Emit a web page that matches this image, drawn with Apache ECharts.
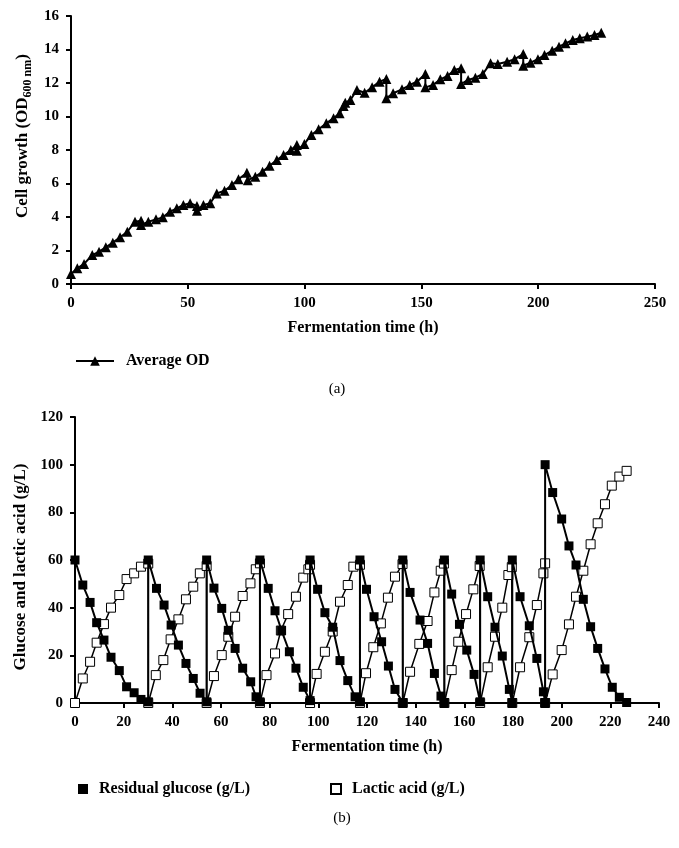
<!DOCTYPE html>
<html>
<head>
<meta charset="utf-8">
<script src="https://cdn.jsdelivr.net/npm/echarts@6/dist/echarts.min.js"></script>
<style>
html,body{margin:0;padding:0;background:#fff;}
#chart{width:679px;height:848px;}
</style>
</head>
<body>
<div id="chart"></div>
<script>
// ---- Panel (a): average OD600 ----
const odTime = [0, 2.7, 5.6, 9.1, 12, 14.9, 17.9, 21, 24.1, 27.4,
  30, 30, 33.1, 36.4, 39.3, 42.4, 45.3, 48.1, 51, 53.9,
  53.9, 56.7, 59.6, 62.4, 65.7, 68.9, 71.7, 75.3, 75.7, 78.9,
  82, 85, 88.1, 91, 94.1, 96.7, 96.7, 99.9, 102.9, 106,
  109.3, 112.4, 115, 116.7, 117.4, 119.6, 122.4, 125.7, 128.9, 132.1,
  135, 135, 137.9, 141.7, 145, 148.1, 151.7, 151.7, 155, 158.1,
  161.2, 164.1, 167, 167, 170, 173.1, 176.3, 179.6, 182.7, 186.7,
  189.9, 193.6, 193.6, 196.7, 199.9, 202.7, 206, 208.9, 211.7, 214.8,
  217.8, 221, 224.1, 227];
const odValue = [0.6, 0.94, 1.2, 1.73, 1.93, 2.19, 2.47, 2.79, 3.12, 3.72,
  3.78, 3.52, 3.72, 3.86, 3.98, 4.32, 4.52, 4.72, 4.82, 4.66,
  4.38, 4.72, 4.82, 5.41, 5.57, 5.91, 6.25, 6.64, 6.2, 6.41,
  6.7, 7.06, 7.4, 7.7, 8.0, 8.3, 7.96, 8.36, 8.9, 9.24,
  9.6, 9.9, 10.2, 10.63, 10.82, 10.99, 11.58, 11.42, 11.74, 12.08,
  12.24, 11.09, 11.39, 11.62, 11.88, 12.08, 12.54, 11.74, 11.88, 12.22,
  12.42, 12.78, 12.88, 11.94, 12.18, 12.32, 12.54, 13.18, 13.13, 13.27,
  13.42, 13.73, 13.03, 13.21, 13.42, 13.67, 13.93, 14.17, 14.37, 14.57,
  14.67, 14.77, 14.87, 15.0];
const odTicksX = [0, 250, 50];   // min, max, interval
const odTicksY = [0, 16, 2];

// ---- Panel (b): residual glucose and lactic acid ----
const glucoseTime = [0, 3.2, 6.2, 8.9, 11.9, 14.8, 18.2, 21.2, 24.3, 27.1, 30.1, 30.1,
  33.5, 36.6, 39.5, 42.5, 45.6, 48.6, 51.4, 54.1, 54.1,
  57.1, 60.3, 63, 65.8, 68.9, 72.2, 74.4, 76, 76,
  79.4, 82.2, 84.9, 88.1, 90.8, 93.8, 96.6, 96.6,
  99.7, 102.7, 105.9, 108.9, 112.1, 115.1, 117.1, 117.1,
  119.8, 122.9, 126, 128.8, 131.5, 134.7, 134.7,
  137.7, 141.8, 144.9, 147.7, 150.4, 151.8, 151.8,
  154.8, 158, 161, 164, 166.5, 166.5,
  169.6, 172.6, 175.6, 178.5, 179.7, 179.7,
  182.9, 186.7, 189.8, 192.5, 193.2, 193.2,
  196.3, 200, 203, 205.9, 208.9, 211.9, 214.8, 217.8, 220.8, 223.7, 226.7];
const glucoseValue = [60, 49.5, 42.2, 33.7, 26.4, 19.2, 13.6, 6.8, 4.3, 1.5, 0.5, 60,
  48.1, 41.1, 32.7, 24.3, 16.6, 10.3, 4.1, 0.5, 60,
  48.2, 39.7, 30.5, 22.9, 14.6, 8.9, 2.6, 0.5, 60,
  48.1, 38.7, 30.4, 21.5, 14.6, 6.6, 1.0, 60,
  47.7, 37.9, 31.8, 17.8, 9.4, 2.6, 0.5, 60,
  47.7, 36.2, 25.7, 15.5, 5.7, 0.2, 60,
  46.4, 34.8, 25, 12.4, 2.9, 0.2, 60,
  45.7, 33, 22.2, 12, 0.5, 60,
  44.6, 31.8, 19.7, 5.7, 0.2, 60,
  44.6, 32.4, 18.7, 4.7, 0.2, 100,
  88.3, 77.2, 65.9, 57.9, 43.5, 32, 22.9, 14.3, 6.6, 2.4, 0.2];
const lacticTime = [0, 3.2, 6.2, 8.9, 11.9, 14.8, 18.2, 21.2, 24.3, 27.1, 30.1, 30.1,
  33.2, 36.3, 39.3, 42.5, 45.6, 48.6, 51.3, 54.1, 54.1,
  57.1, 60.3, 63, 65.8, 68.9, 72.1, 74.3, 76, 76,
  78.7, 82.2, 84.6, 87.6, 90.8, 93.8, 95.9, 96.6, 96.6,
  99.3, 102.7, 105.9, 108.9, 112.1, 114.4, 117.1, 117.1,
  119.6, 122.6, 125.7, 128.6, 131.5, 134.6, 134.7,
  137.7, 141.5, 144.9, 147.7, 150.3, 151.6, 151.8,
  154.8, 157.5, 160.7, 163.7, 166.3, 166.5,
  169.6, 172.6, 175.6, 178.1, 179.5, 179.7,
  182.9, 186.7, 189.8, 192.5, 193.2, 193.2,
  196.3, 200, 203, 205.9, 208.9, 211.9, 214.8, 217.8, 220.6, 223.7, 226.7];
const lacticValue = [0, 10.3, 17.3, 25.3, 33.1, 40, 45.3, 52, 54.4, 57.2, 58.5, 0,
  11.7, 18, 26.7, 35.1, 43.5, 48.8, 54.4, 57.5, 0,
  11.3, 20.1, 27.8, 36.2, 44.9, 50.2, 56.1, 58.6, 0,
  11.7, 20.8, 30.4, 37.3, 44.6, 52.6, 56.1, 58, 0,
  12.2, 21.5, 30, 42.5, 49.5, 57.2, 58, 0,
  12.5, 23.4, 33.4, 44.2, 53, 58.3, 0,
  13.1, 24.8, 34.4, 46.4, 55.5, 58.5, 0,
  13.8, 25.7, 37.3, 47.7, 57.5, 0,
  15, 27.8, 40, 53.7, 57, 0,
  15, 27.6, 41.1, 54.4, 58.6, 0,
  12, 22.2, 33, 44.6, 55.5, 66.6, 75.4, 83.4, 91.2, 95, 97.4];
const bTicksX = [0, 240, 20];
const bTicksY = [0, 120, 20];

const FONT = 'Liberation Serif';
const pair = (xs, ys) => xs.map((x, i) => [x, ys[i]]);

function xAxisCfg(idx, t) {
  return {
    type: 'value', gridIndex: idx, min: t[0], max: t[1], interval: t[2],
    name: 'Fermentation time (h)', nameLocation: 'middle', nameGap: 36,
    nameTextStyle: {fontFamily: FONT, fontWeight: 'bold', fontSize: 16, color: '#000'},
    axisLine: {onZero: false, lineStyle: {color: '#000', width: 2}},
    axisTick: {show: true, inside: false, length: 5, lineStyle: {color: '#000', width: 2}},
    axisLabel: {fontFamily: FONT, fontWeight: 'bold', fontSize: 15, color: '#000', margin: 12},
    splitLine: {show: false}
  };
}
function yAxisCfg(idx, t) {
  return {
    type: 'value', gridIndex: idx, min: t[0], max: t[1], interval: t[2],
    axisLine: {show: true, lineStyle: {color: '#000', width: 2}},
    axisTick: {show: true, inside: false, length: 5, lineStyle: {color: '#000', width: 2}},
    axisLabel: {fontFamily: FONT, fontWeight: 'bold', fontSize: 15, color: '#000', margin: 12},
    splitLine: {show: false}
  };
}

const chart = echarts.init(document.getElementById('chart'), null, {renderer: 'canvas'});
chart.setOption({
  backgroundColor: '#fff',
  animation: false,
  grid: [
    {left: 71, top: 16, width: 584, height: 268},
    {left: 75, top: 417, width: 584, height: 286}
  ],
  xAxis: [xAxisCfg(0, odTicksX), xAxisCfg(1, bTicksX)],
  yAxis: [yAxisCfg(0, odTicksY), yAxisCfg(1, bTicksY)],
  legend: [
    {
      data: ['Average OD'], left: 70, top: 348, itemWidth: 38, itemHeight: 12,
      textStyle: {fontFamily: FONT, fontWeight: 'bold', fontSize: 16, color: '#000', padding: [0, 0, 0, 7]}
    },
    {
      data: [{name: 'Residual glucose (g/L)', icon: 'rect'}], left: 73, top: 776, itemWidth: 10, itemHeight: 10,
      textStyle: {fontFamily: FONT, fontWeight: 'bold', fontSize: 16, color: '#000', padding: [0, 0, 0, 6]}
    },
    {
      data: [{name: 'Lactic acid (g/L)', icon: 'rect'}], left: 325, top: 776, itemWidth: 10, itemHeight: 10,
      textStyle: {fontFamily: FONT, fontWeight: 'bold', fontSize: 16, color: '#000', padding: [0, 0, 0, 6]}
    }
  ],
  graphic: [
    {
      type: 'text', x: 23, y: 136, rotation: Math.PI / 2,
      style: {
        text: '{a|Cell growth (OD}{s|600 nm}{a|)}',
        align: 'center', verticalAlign: 'middle', fill: '#000',
        rich: {
          a: {fontFamily: FONT, fontWeight: 'bold', fontSize: 17, fill: '#000', lineHeight: 22},
          s: {fontFamily: FONT, fontWeight: 'bold', fontSize: 12, fill: '#000', lineHeight: 22, padding: [10, 0, 0, 0]}
        }
      }
    },
    {
      type: 'text', x: 21, y: 567, rotation: Math.PI / 2,
      style: {
        text: 'Glucose and lactic acid (g/L)', align: 'center', verticalAlign: 'middle',
        fontFamily: FONT, fontWeight: 'bold', fontSize: 17, fill: '#000'
      }
    },
    {
      type: 'text', x: 337, y: 389,
      style: {text: '(a)', align: 'center', verticalAlign: 'middle', fontFamily: FONT, fontSize: 15, fill: '#000'}
    },
    {
      type: 'text', x: 342, y: 818,
      style: {text: '(b)', align: 'center', verticalAlign: 'middle', fontFamily: FONT, fontSize: 15, fill: '#000'}
    }
  ],
  series: [
    {
      name: 'Average OD', type: 'line', xAxisIndex: 0, yAxisIndex: 0,
      data: pair(odTime, odValue),
      symbol: 'triangle', symbolSize: 10,
      lineStyle: {color: '#000', width: 2},
      itemStyle: {color: '#000'}
    },
    {
      name: 'Residual glucose (g/L)', type: 'line', xAxisIndex: 1, yAxisIndex: 1,
      data: pair(glucoseTime, glucoseValue),
      symbol: 'rect', symbolSize: 9, z: 3,
      lineStyle: {color: '#000', width: 2},
      itemStyle: {color: '#000'}
    },
    {
      name: 'Lactic acid (g/L)', type: 'line', xAxisIndex: 1, yAxisIndex: 1,
      data: pair(lacticTime, lacticValue),
      symbol: 'rect', symbolSize: 9, z: 2,
      lineStyle: {color: '#000', width: 1.5},
      itemStyle: {color: '#fff', borderColor: '#000', borderWidth: 1}
    }
  ]
});
</script>
</body>
</html>
